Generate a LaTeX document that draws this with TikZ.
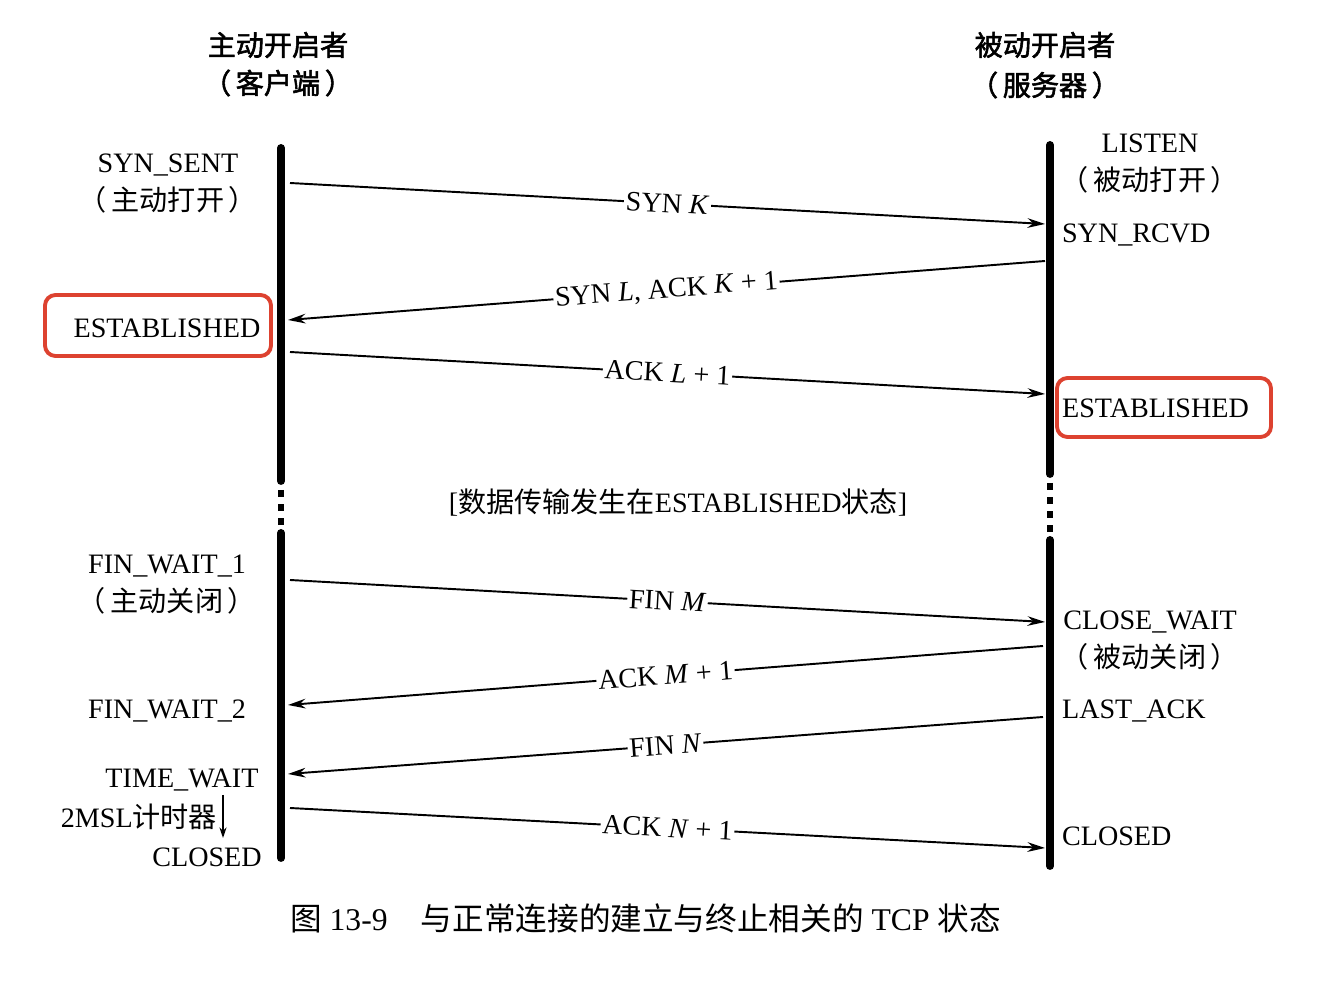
\documentclass[tikz,border=0pt]{standalone}
\usepackage{fontspec}
\usepackage{tikz}
\usetikzlibrary{arrows.meta}
\setmainfont{Liberation Serif}
\newfontfamily\cjk{Noto Sans CJK SC}
\newfontfamily\cjkb{Noto Sans CJK SC}[FakeBold=2]
\definecolor{hilite}{RGB}{221,66,48}

\begin{document}
\begin{tikzpicture}[x=0.02cm, y=-0.02cm,
  every node/.style={font=\fontsize{16}{21.6}\selectfont, inner sep=1pt},
  head/.style={font=\fontsize{16}{20}\selectfont\cjkb},
  state/.style={align=center},
  life/.style={line width=4.5pt, line cap=round},
  gap/.style={line width=3.5pt, dash pattern=on 4pt off 4pt},
  msg/.style={line width=1.1pt, -{Stealth[length=10pt,width=5.5pt]}},
  lbl/.style={fill=white, sloped},
  hibox/.style={draw=hilite, line width=2.2pt, rounded corners=6pt}]
\useasboundingbox (0,0) rectangle (1320,982);
% headers
\node[head] (hc) at (278,45) {主动开启者};
\node[head] (hc2) at (278,83) {（\,客户端\,）};
\node[head] (hs) at (1045,45) {被动开启者};
\node[head] (hs2) at (1045,85) {（\,服务器\,）};
% lifelines
\coordinate (ctop) at (281,148);
\coordinate (cbrk) at (281,481);
\coordinate (cdot) at (281,490);
\coordinate (cdot2) at (281,526);
\coordinate (cres) at (281,533);
\coordinate (cend) at (281,858);
\coordinate (stop) at (1050,145);
\coordinate (sbrk) at (1050,474);
\coordinate (sdot) at (1050,483);
\coordinate (sdot2) at (1050,533);
\coordinate (sres) at (1050,540);
\coordinate (send) at (1050,866);
\draw[life] (ctop) -- (cbrk);
\draw[gap] (cdot) -- (cdot2);
\draw[life] (cres) -- (cend);
\draw[life] (stop) -- (sbrk);
\draw[gap] (sdot) -- (sdot2);
\draw[life] (sres) -- (send);
% message ends
\coordinate (c1) at (290,183);  \coordinate (s1) at (1045,224);
\coordinate (s2) at (1045,261); \coordinate (c2) at (288,320);
\coordinate (c3) at (290,352);  \coordinate (s3) at (1045,394);
\coordinate (c4) at (290,580);  \coordinate (s4) at (1045,622);
\coordinate (s5) at (1043,646); \coordinate (c5) at (288,705);
\coordinate (s6) at (1043,717); \coordinate (c6) at (288,774);
\coordinate (c7) at (290,808);  \coordinate (s7) at (1045,848);
\draw[msg] (c1) -- node[lbl] {SYN \textit{K}} (s1);
\draw[msg] (s2) -- node[lbl] {SYN \textit{L}, ACK \textit{K} + 1} (c2);
\draw[msg] (c3) -- node[lbl] {ACK \textit{L} + 1} (s3);
\draw[msg] (c4) -- node[lbl] {FIN \textit{M}} (s4);
\draw[msg] (s5) -- node[lbl] {ACK \textit{M} + 1} (c5);
\draw[msg] (s6) -- node[lbl] {FIN \textit{N}} (c6);
\draw[msg] (c7) -- node[lbl] {ACK \textit{N} + 1} (s7);
% client states
\node[state] (synsent) at (168,184) {SYN\_SENT\\{\cjk （\,主动打开\,）}};
\node (estc) at (167,328) {ESTABLISHED};
\draw[hibox] (45,295) rectangle (271,356);
\node[state] (finw1) at (167,585) {FIN\_WAIT\_1\\{\cjk （\,主动关闭\,）}};
\node (finw2) at (167,711) {FIN\_WAIT\_2};
\node (timew) at (182,780) {TIME\_WAIT};
\node (msl) at (139,817) {2MSL{\cjk 计时器}};
\node (closedc) at (207,857) {CLOSED};
\coordinate (tw1) at (223,795);
\coordinate (tw2) at (223,838);
\draw[line width=0.8pt, -{Stealth[length=6pt,width=4pt]}] (tw1) -- (tw2);
% server states
\node[state] (listen) at (1150,164) {LISTEN\\{\cjk （\,被动打开\,）}};
\node[anchor=west] (synrcvd) at (1060,235) {SYN\_RCVD};
\node[anchor=west] (ests) at (1060,408) {ESTABLISHED};
\draw[hibox] (1057,378) rectangle (1271,437);
\node[state] (closew) at (1150,641) {CLOSE\_WAIT\\{\cjk （\,被动关闭\,）}};
\node[anchor=west] (lastack) at (1060,711) {LAST\_ACK};
\node[anchor=west] (closeds) at (1060,836) {CLOSED};
% middle note and caption
\node (data) at (678,503) {[{\cjk 数据传输发生在}ESTABLISHED{\cjk 状态}]};
\node[anchor=west, font=\fontsize{18}{20}\selectfont] (cap) at (288,918)
  {{\cjk 图} 13-9\hspace{19pt}{\cjk 与正常连接的建立与终止相关的} TCP {\cjk 状态}};
\end{tikzpicture}
\end{document}
